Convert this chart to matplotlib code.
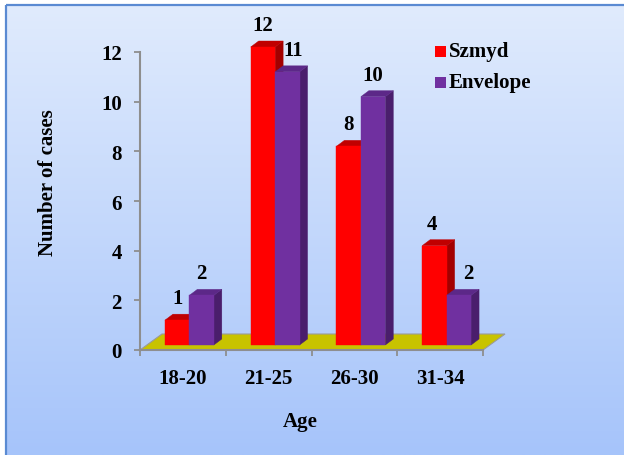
import numpy as np
import matplotlib
matplotlib.use('Agg')
import matplotlib.pyplot as plt
from matplotlib.patches import Polygon, Rectangle
from matplotlib.transforms import IdentityTransform

# Age groups and case counts per technique
age_groups = ['18-20', '21-25', '26-30', '31-34']
szmyd = [1, 12, 8, 4]
envelope = [2, 11, 10, 2]
series_names = ['Szmyd', 'Envelope']

W, H = 624, 456
plt.rcParams['font.family'] = ['Liberation Serif', 'DejaVu Serif']
plt.rcParams['font.weight'] = 'bold'
FS = 15

# face, side, top colours for the pseudo-3D columns
red = ('#FF0000', '#A30000', '#C00000')
purple = ('#7030A0', '#4A1E6C', '#5C2888')

fig = plt.figure(figsize=(W / 100, H / 100), dpi=100)
fig.patch.set_facecolor('white')

# gradient background with a blue frame on the top/left
bg = fig.add_axes([0, 0, 1, 1], zorder=0)
bg.set_xlim(0, W)
bg.set_ylim(H, 0)
bg.axis('off')
grad = np.linspace(0, 1, 256).reshape(-1, 1)
top_c = np.array([0xE0, 0xEB, 0xFD]) / 255
bot_c = np.array([0xA6, 0xC4, 0xFA]) / 255
img = top_c[None, None, :] * (1 - grad[..., None]) + bot_c[None, None, :] * grad[..., None]
bg.imshow(img, extent=[6, W, H, 6], aspect='auto', interpolation='bilinear')
bg.plot([6, 6], [H, 6], color='#5A8AD2', lw=1.6, solid_capstyle='butt')
bg.plot([6, W], [6, 6], color='#5A8AD2', lw=1.6, solid_capstyle='butt')

# main axes placed over the chart area
x0, x1, y0, y1 = 140, 483, 351, 53
ax = fig.add_axes([x0 / W, 1 - y0 / H, (x1 - x0) / W, (y0 - y1) / H], zorder=1)
ax.patch.set_alpha(0)
ax.set_xlim(-0.5, len(age_groups) - 0.5)
ax.set_ylim(0, 12)
for s in ['top', 'right']:
    ax.spines[s].set_visible(False)
for s in ['left', 'bottom']:
    ax.spines[s].set_color('#8E8E8E')
    ax.spines[s].set_linewidth(1.5)

ax.set_yticks(range(0, 13, 2))
ax.tick_params(axis='y', length=4, width=1.3, color='#8E8E8E', pad=9, labelsize=FS)
ax.set_xticks(range(len(age_groups)))
ax.set_xticklabels(age_groups)
ax.set_xticks(np.arange(-0.5, len(age_groups)), minor=True)
ax.tick_params(axis='x', which='major', length=0, pad=13, labelsize=FS)
ax.tick_params(axis='x', which='minor', length=4, width=1.3, color='#8E8E8E')

ident = IdentityTransform()


def px(x, y, dx=0.0, dy=0.0):
    p = ax.transData.transform((x, y))
    return (p[0] + dx, p[1] + dy)


# floor
depth_floor = (22, 16)
floor = [px(-0.5, 0), px(len(age_groups) - 0.5, 0),
         px(len(age_groups) - 0.5, 0, *depth_floor), px(-0.5, 0, *depth_floor)]
ax.add_patch(Polygon(floor, closed=True, transform=ident, clip_on=False,
                     facecolor='#C8C300', edgecolor='#9A9A9A', lw=0.8, zorder=1))

bw = 0.285
shift = (6.5, 5)
dep = (8, 6)


def column(xl, v, cols):
    sx, sy = shift
    dx, dy = dep
    xr = xl + bw
    front = [px(xl, 0, sx, sy), px(xr, 0, sx, sy), px(xr, v, sx, sy), px(xl, v, sx, sy)]
    side = [px(xr, 0, sx, sy), px(xr, 0, sx + dx, sy + dy),
            px(xr, v, sx + dx, sy + dy), px(xr, v, sx, sy)]
    top = [px(xl, v, sx, sy), px(xr, v, sx, sy),
           px(xr, v, sx + dx, sy + dy), px(xl, v, sx + dx, sy + dy)]
    ax.add_patch(Polygon(side, transform=ident, clip_on=False, facecolor=cols[1],
                         edgecolor=cols[1], lw=0.3, zorder=2))
    ax.add_patch(Polygon(top, transform=ident, clip_on=False, facecolor=cols[2],
                         edgecolor=cols[2], lw=0.3, zorder=2))
    ax.add_patch(Polygon(front, transform=ident, clip_on=False, facecolor=cols[0],
                         edgecolor=cols[0], lw=0.3, zorder=2))


label_nudge = {'Szmyd': [0, 0, 0, -2], 'Envelope': [0, 6, 0, 9]}

for i in range(len(age_groups)):
    for k, (vals, cols, name) in enumerate([(szmyd, red, 'Szmyd'), (envelope, purple, 'Envelope')]):
        xl = i - bw + k * bw
        column(xl, vals[i], cols)
        cx, cy = px(xl + bw / 2, vals[i], shift[0] + label_nudge[name][i], shift[1] + 22)
        fig.text(cx / W, cy / H, str(vals[i]), ha='center', va='center',
                 fontsize=FS, fontweight='bold', zorder=5)

# legend
for j, (name, cols) in enumerate(zip(series_names, [red, purple])):
    yc = 52 + j * 31
    fig.patches.append(Rectangle((435 / W, 1 - (yc + 5.5) / H), 11 / W, 11 / H,
                                 transform=fig.transFigure, facecolor=cols[0],
                                 edgecolor='none', zorder=3))
    fig.text(449 / W, 1 - yc / H, name, ha='left', va='center',
             fontsize=FS, fontweight='bold')

fig.text(48 / W, 1 - 183 / H, 'Number of cases', rotation=90, ha='center',
         va='center', fontsize=FS, fontweight='bold')
fig.text(300 / W, 1 - 422 / H, 'Age', ha='center', va='center',
         fontsize=FS, fontweight='bold')

fig.savefig('out.png', dpi=100)
